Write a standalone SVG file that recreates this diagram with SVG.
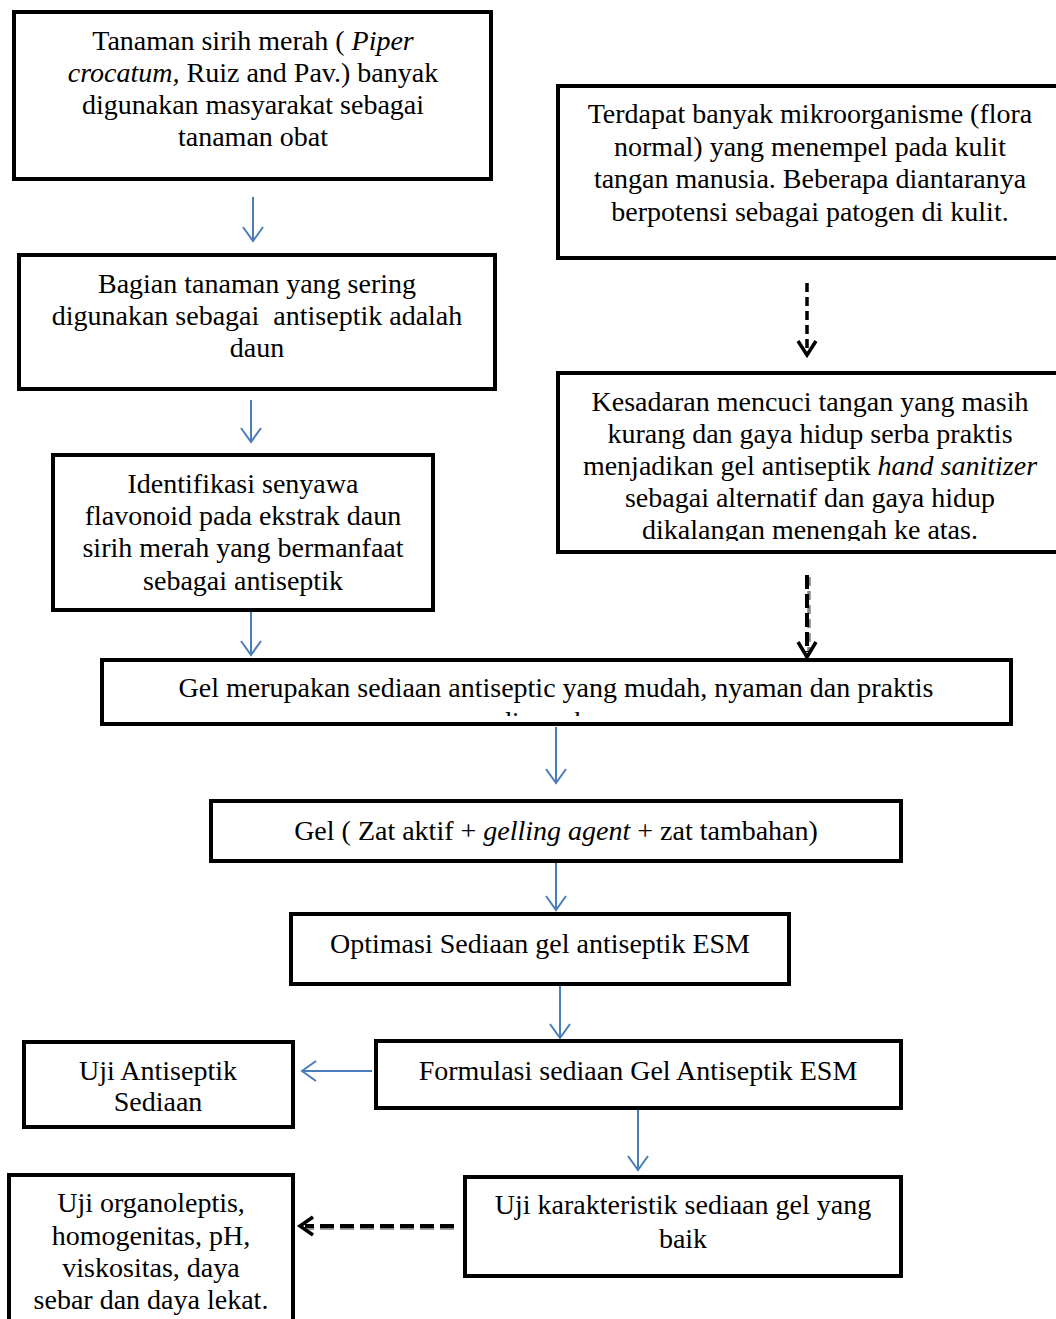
<svg xmlns="http://www.w3.org/2000/svg" width="1056" height="1319" viewBox="0 0 1056 1319">
<style>
.box{fill:#fff;stroke:#000;stroke-width:4}
.t{font-family:"Liberation Serif","Times New Roman",serif;font-size:28px;fill:#000;text-anchor:middle}
.i{font-style:italic}
.blue{stroke:#4a7ebb;stroke-width:2;fill:none}
.dash{stroke:#000;stroke-width:3.5;fill:none;stroke-dasharray:9 5}
.dashsh{stroke:#888;stroke-width:3.5;fill:none;stroke-dasharray:9 5}
.head{stroke:#000;stroke-width:3.5;fill:none}
</style>
<defs>
<clipPath id="cGel"><rect x="103" y="661" width="907" height="55"/></clipPath>
<clipPath id="cR2"><rect x="559" y="374" width="497" height="167"/></clipPath>
</defs>

<g id="connectors">
<path class="blue" d="M253 197V241M243 227L253 241L263 227"/>
<path class="blue" d="M251 400V442M241 428L251 442L261 428"/>
<path class="blue" d="M251 612V655M241 641L251 655L261 641"/>
<path class="blue" d="M556 727V783M546 769L556 783L566 769"/>
<path class="blue" d="M556 862V910M546 896L556 910L566 896"/>
<path class="blue" d="M560 985V1038M550 1024L560 1038L570 1024"/>
<path class="blue" d="M372 1071H302M316 1061L302 1071L316 1081"/>
<path class="blue" d="M638 1110V1170M628 1156L638 1170L648 1156"/>
<path class="dash" d="M807 283V352"/>
<path class="head" d="M798 341L807 355L816 341"/>
<path class="dashsh" d="M809 577V652"/>
<path class="dash" d="M807 575V652" style="stroke-width:4;stroke-dasharray:14 5"/>
<path class="head" d="M798 642L807 657L816 642"/>
<path class="dashsh" d="M454 1228H307" style="stroke-dasharray:14 6"/>
<path class="dash" d="M454 1226H305" style="stroke-width:4;stroke-dasharray:14 6"/>
<path class="head" d="M313 1217L300 1226L313 1235"/>
</g>

<g id="n1">
<rect class="box" x="14" y="12" width="477" height="167"/>
<text class="t" x="253" y="50">Tanaman sirih merah ( <tspan class="i">Piper</tspan></text>
<text class="t" x="253" y="82"><tspan class="i">crocatum,</tspan> Ruiz and Pav.) banyak</text>
<text class="t" x="253" y="114">digunakan masyarakat sebagai</text>
<text class="t" x="253" y="146">tanaman obat</text>
</g>

<g id="n2">
<rect class="box" x="19" y="255" width="476" height="134"/>
<text class="t" x="257" y="293">Bagian tanaman yang sering</text>
<text class="t" x="257" y="325" xml:space="preserve">digunakan sebagai  antiseptik adalah</text>
<text class="t" x="257" y="357">daun</text>
</g>

<g id="n3">
<rect class="box" x="53" y="455" width="380" height="155"/>
<text class="t" x="243" y="493">Identifikasi senyawa</text>
<text class="t" x="243" y="525">flavonoid pada ekstrak daun</text>
<text class="t" x="243" y="557">sirih merah yang bermanfaat</text>
<text class="t" x="243" y="590">sebagai antiseptik</text>
</g>

<g id="r1">
<rect class="box" x="558" y="86" width="510" height="172"/>
<text class="t" x="810" y="123">Terdapat banyak mikroorganisme (flora</text>
<text class="t" x="810" y="156">normal) yang menempel pada kulit</text>
<text class="t" x="810" y="188">tangan manusia. Beberapa diantaranya</text>
<text class="t" x="810" y="221">berpotensi sebagai patogen di kulit.</text>
</g>

<g id="r2">
<rect class="box" x="558" y="373" width="510" height="179"/>
<g clip-path="url(#cR2)">
<text class="t" x="810" y="411">Kesadaran mencuci tangan yang masih</text>
<text class="t" x="810" y="443">kurang dan gaya hidup serba praktis</text>
<text class="t" x="810" y="475">menjadikan gel antiseptik <tspan class="i">hand sanitizer</tspan></text>
<text class="t" x="810" y="507">sebagai alternatif dan gaya hidup</text>
<text class="t" x="810" y="539">dikalangan menengah ke atas.</text>
</g>
</g>

<g id="gel1">
<rect class="box" x="102" y="660" width="909" height="64"/>
<g clip-path="url(#cGel)">
<text class="t" x="556" y="697">Gel merupakan sediaan antiseptic yang mudah, nyaman dan praktis</text>
<text class="t" x="556" y="731">digunakan</text>
</g>
</g>

<g id="gel2">
<rect class="box" x="211" y="801" width="690" height="60"/>
<text class="t" x="556" y="840">Gel ( Zat aktif + <tspan class="i">gelling agent</tspan> + zat tambahan)</text>
</g>

<g id="opt">
<rect class="box" x="291" y="914" width="498" height="70"/>
<text class="t" x="540" y="953">Optimasi Sediaan gel antiseptik ESM</text>
</g>

<g id="form">
<rect class="box" x="376" y="1041" width="525" height="67"/>
<text class="t" x="638" y="1080">Formulasi sediaan Gel Antiseptik ESM</text>
</g>

<g id="ujiA">
<rect class="box" x="24" y="1042" width="269" height="85"/>
<text class="t" x="158" y="1080">Uji Antiseptik</text>
<text class="t" x="158" y="1111">Sediaan</text>
</g>

<g id="ujiK">
<rect class="box" x="465" y="1177" width="436" height="99"/>
<text class="t" x="683" y="1214">Uji karakteristik sediaan gel yang</text>
<text class="t" x="683" y="1248">baik</text>
</g>

<g id="ujiO">
<rect class="box" x="9" y="1175" width="284" height="160"/>
<text class="t" x="151" y="1212">Uji organoleptis,</text>
<text class="t" x="151" y="1245">homogenitas, pH,</text>
<text class="t" x="151" y="1277">viskositas, daya</text>
<text class="t" x="151" y="1309">sebar dan daya lekat.</text>
</g>
</svg>
